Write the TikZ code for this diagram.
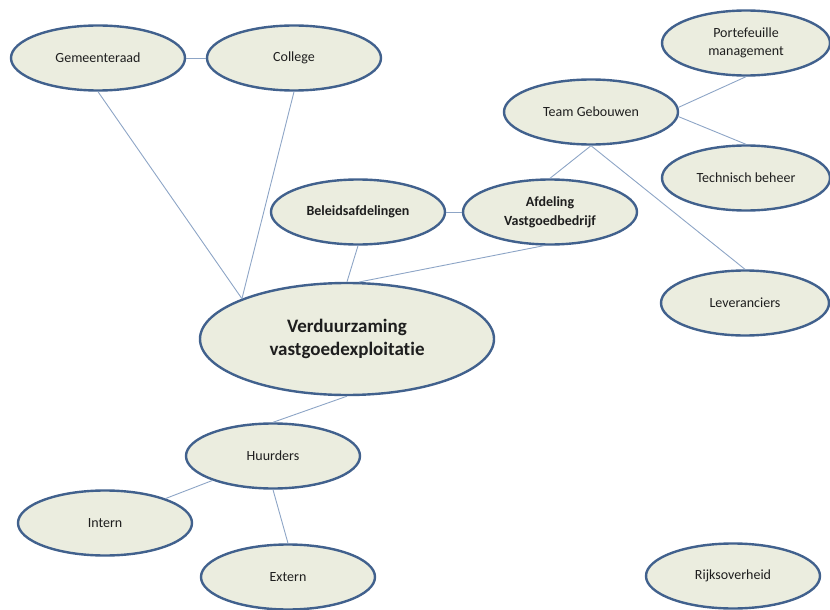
\documentclass[tikz,border=0pt]{standalone}
\usepackage{fontspec}
\setmainfont[RawFeature=-liga]{Carlito}
\usetikzlibrary{shapes.geometric}
\definecolor{efill}{HTML}{EBEDDF}
\definecolor{edraw}{HTML}{41618D}
\definecolor{lnk}{HTML}{8DA5C6}
\definecolor{txt}{HTML}{1E1E1E}
\tikzset{
  bubble/.style={ellipse, draw=edraw, fill=efill, line width=2.4pt, inner sep=0pt,
    minimum width=174pt, minimum height=65pt, text=txt, align=center,
    font=\fontsize{14}{18}\selectfont},
  bubblebold/.style={bubble, font=\fontsize{14}{19}\selectfont\bfseries},
  bigbubble/.style={bubble, minimum width=294pt, minimum height=112pt,
    font=\fontsize{19}{23}\selectfont\bfseries},
  link/.style={draw=lnk, line width=0.9pt}
}
\begin{document}
\begin{tikzpicture}[x=1pt,y=-1pt]
\useasboundingbox (0,0) rectangle (830,610);
\node[bubble] (gem) at (98,58) {Gemeenteraad};
\node[bubble] (col) at (294,58) {College};
\node[bubble, minimum width=168pt] (port) at (746,43) {Portefeuille\\management};
\node[bubble] (team) at (591,112) {Team Gebouwen};
\node[bubble, minimum width=168pt] (tech) at (746,178) {Technisch beheer};
\node[bubblebold] (bel) at (358,212) {Beleidsafdelingen};
\node[bubblebold] (afd) at (550,212) {Afdeling\\Vastgoedbedrijf};
\node[bubble, minimum width=168pt] (lev) at (745,303) {Leveranciers};
\node[bigbubble] (verd) at (347,339) {Verduurzaming\\vastgoedexploitatie};
\node[bubble] (hu) at (273,456) {Huurders};
\node[bubble] (int) at (105,523) {Intern};
\node[bubble] (ext) at (288,577) {Extern};
\node[bubble] (rijk) at (733,576) {Rijksoverheid};

\draw[link] (gem.east) -- (col.west);
\draw[link] (gem.south) -- (verd.159);
\draw[link] (col.south) -- (verd.159);
\draw[link] (bel.south) -- (verd.north);
\draw[link] (afd.-100) -- (verd.78);
\draw[link] (bel.east) -- (afd.west);
\draw[link] (team.south) -- (afd.north);
\draw[link] (team.south) -- (lev.north);
\draw[link] (team.3) -- (port.south);
\draw[link] (team.-3) -- (tech.north);
\draw[link] (verd.south) -- (hu.north);
\draw[link] (hu.-158) -- (int.22);
\draw[link] (hu.south) -- (ext.north);
\end{tikzpicture}
\end{document}
